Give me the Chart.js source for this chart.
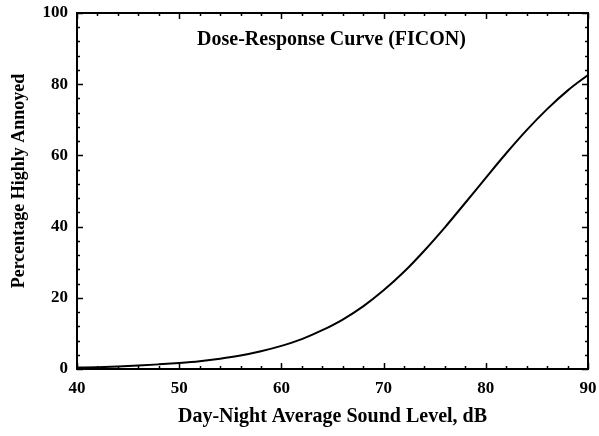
<!DOCTYPE html>
<html>
<head>
<meta charset="utf-8">
<script src="https://cdn.jsdelivr.net/npm/chart.js@4/dist/chart.umd.min.js"></script>
<style>
  html, body { margin: 0; padding: 0; background: #fff; }
  #wrap { width: 599px; height: 436px; }
</style>
</head>
<body>
<div id="wrap"><canvas id="doseChart"></canvas></div>
<script>
// Values
const soundLevels = [40, 42, 44, 46, 48, 50, 52, 54, 56, 58, 60, 62, 64, 66, 68, 70, 72, 74, 76, 78, 80, 82, 84, 86, 88, 90];
const pctAnnoyed = [0.4, 0.5, 0.7, 0.95, 1.3, 1.7, 2.2, 2.9, 3.8, 5.0, 6.5, 8.4, 10.9, 13.9, 17.6, 22.1, 27.3, 33.3, 39.8, 46.7, 53.7, 60.6, 67.1, 73.0, 78.2, 82.6];
const xTicks = [40, 50, 60, 70, 80, 90];
const yTicks = [0, 20, 40, 60, 80, 100];
const chartTitle = 'Dose-Response Curve (FICON)';
const xTitle = 'Day-Night Average Sound Level, dB';
const yTitle = 'Percentage Highly Annoyed';

const FONT = '"Liberation Serif", "Times New Roman", serif';

// Frame, inward ticks on all sides, plot title and axis titles
const framePlugin = {
    id: 'frame',
    afterDatasetsDraw(chart) {
        const ctx = chart.ctx;
        const a = chart.chartArea;
        const xs = chart.scales.x;
        const ys = chart.scales.y;
        ctx.save();
        ctx.strokeStyle = '#000';

        ctx.lineWidth = 1.5;
        for (let v = 40; v <= 90; v += 2) {
            const px = Math.round(xs.getPixelForValue(v)) + 0.5;
            const len = v % 10 === 0 ? 6 : 3;
            ctx.beginPath();
            ctx.moveTo(px, a.bottom); ctx.lineTo(px, a.bottom - len);
            ctx.moveTo(px, a.top); ctx.lineTo(px, a.top + len);
            ctx.stroke();
        }
        for (let v = 0; v <= 100; v += 4) {
            const py = Math.round(ys.getPixelForValue(v)) + 0.5;
            const len = v % 20 === 0 ? 6 : 3;
            ctx.beginPath();
            ctx.moveTo(a.left, py); ctx.lineTo(a.left + len, py);
            ctx.moveTo(a.right, py); ctx.lineTo(a.right - len, py);
            ctx.stroke();
        }

        ctx.lineWidth = 2;
        ctx.strokeRect(a.left, a.top, a.right - a.left, a.bottom - a.top);

        ctx.fillStyle = '#000';
        ctx.textAlign = 'center';
        ctx.textBaseline = 'middle';
        ctx.font = 'bold 20px ' + FONT;
        ctx.fillText(chartTitle, (a.left + a.right) / 2 - 1, a.top + 27);

        ctx.font = 'bold 20px ' + FONT;
        ctx.fillText(xTitle, (a.left + a.right) / 2, 417);

        ctx.translate(19, 181);
        ctx.rotate(-Math.PI / 2);
        ctx.font = 'bold 18px ' + FONT;
        ctx.fillText(yTitle, 0, 0);
        ctx.restore();
    }
};

const ctx = document.getElementById('doseChart').getContext('2d');
new Chart(ctx, {
    type: 'line',
    data: {
        labels: soundLevels,
        datasets: [{
            data: soundLevels.map((x, i) => ({ x: x, y: pctAnnoyed[i] })),
            borderColor: '#000',
            borderWidth: 2,
            pointRadius: 0,
            fill: false,
            cubicInterpolationMode: 'monotone'
        }]
    },
    options: {
        responsive: true,
        maintainAspectRatio: false,
        animation: false,
        layout: { padding: { left: 0, top: 13, right: 11, bottom: 0 } },
        plugins: {
            legend: { display: false },
            tooltip: { enabled: false }
        },
        scales: {
            x: {
                type: 'linear',
                min: 40,
                max: 90,
                afterBuildTicks: (s) => { s.ticks = xTicks.map(v => ({ value: v })); },
                afterFit: (s) => { s.height = 67; s.paddingLeft = 0; s.paddingRight = 0; },
                grid: { display: false, drawTicks: false },
                border: { display: false },
                ticks: {
                    color: '#000',
                    padding: 9,
                    maxRotation: 0,
                    font: { family: FONT, size: 17, weight: 'bold' }
                }
            },
            y: {
                min: 0,
                max: 100,
                afterBuildTicks: (s) => { s.ticks = yTicks.map(v => ({ value: v })); },
                afterFit: (s) => { s.width = 77; s.paddingTop = 0; s.paddingBottom = 0; },
                grid: { display: false, drawTicks: false },
                border: { display: false },
                ticks: {
                    color: '#000',
                    padding: 9,
                    font: { family: FONT, size: 17, weight: 'bold' }
                }
            }
        }
    },
    plugins: [framePlugin]
});
</script>
</body>
</html>
